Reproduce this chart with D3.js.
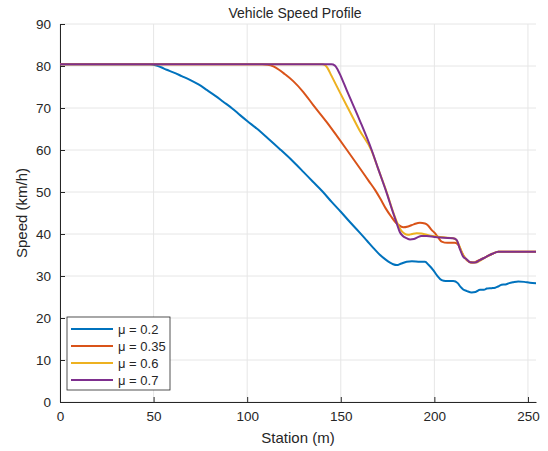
<!DOCTYPE html>
<html>
<head>
<meta charset="utf-8">
<script src="https://cdn.jsdelivr.net/npm/d3@7"></script>
<style>
  html, body { margin: 0; padding: 0; background: #fff; }
  svg { display: block; font-family: "Liberation Sans", Arial, Helvetica, sans-serif; }
</style>
</head>
<body>
<svg id="chart" width="548" height="451"></svg>
<script>
// Station (m) / speed (km/h) pairs for each friction coefficient
const stationMu02 = [0, 48, 51, 54, 57, 60.5, 65, 69.4, 74, 78.4, 83, 87.2, 92, 96.2, 100, 105.1, 111, 117.5, 124, 130, 135, 140.5, 145, 150, 155, 160, 164, 168, 171, 174, 176.3, 178, 179.9, 182, 185.2, 188, 192.3, 195, 197, 199.4, 201.5, 203.9, 206, 210.1, 212.5, 214, 215.4, 217.5, 219.9, 222, 224.4, 226.5, 228, 230.6, 232.5, 234, 235.9, 238, 240, 242, 244.8, 248, 251, 254.3];
const speedMu02   = [80.4, 80.4, 80.2, 79.7, 79.1, 78.5, 77.6, 76.7, 75.6, 74.3, 72.9, 71.5, 69.9, 68.3, 66.9, 65.1, 62.8, 60.2, 57.5, 54.8, 52.5, 50.0, 47.7, 45.3, 42.8, 40.4, 38.4, 36.4, 35.0, 33.9, 33.2, 32.8, 32.6, 32.9, 33.4, 33.5, 33.4, 33.4, 32.6, 31.4, 30.1, 29.0, 28.8, 28.8, 28.3, 27.4, 26.8, 26.4, 26.1, 26.2, 26.7, 26.7, 27.0, 27.1, 27.2, 27.5, 27.9, 28.0, 28.3, 28.5, 28.7, 28.6, 28.4, 28.3];

const stationMu035 = [0, 108, 111, 114, 117, 120, 124.6, 130, 135.3, 142.4, 148, 153.3, 160.3, 165, 168.3, 171, 174, 177, 179, 181, 183.4, 186, 189, 192.3, 195, 196.5, 198.5, 200.3, 202, 203.9, 207, 211, 212.8, 214.5, 216.3, 218.5, 220.8, 223, 225.5, 227.9, 231, 234.1, 240, 247, 254.3];
const speedMu035   = [80.4, 80.4, 80.3, 79.9, 79.1, 78.1, 76.4, 73.8, 70.7, 66.7, 63.3, 60.0, 55.6, 52.6, 50.5, 48.5, 46.1, 44.1, 42.9, 42.1, 41.6, 41.8, 42.3, 42.7, 42.5, 42.1, 41.0, 40.2, 39.2, 38.2, 37.9, 37.9, 37.4, 35.8, 34.3, 33.4, 33.2, 33.6, 34.1, 34.6, 35.3, 35.8, 35.8, 35.8, 35.8];

const stationMu06 = [0, 140, 141.6, 142.8, 145, 150, 155, 160, 166.5, 170, 174.5, 178, 180, 182, 184, 186, 188, 190.5, 193, 195.9, 198, 201.2, 205, 210, 211.5, 213, 215, 217, 219.5, 222, 225, 227.9, 231, 234.1, 240, 247, 254.3];
const speedMu06   = [80.4, 80.4, 80.2, 79.6, 77.7, 73.3, 69.0, 64.7, 59.8, 55.5, 50.0, 45.2, 42.8, 41.0, 40.1, 39.8, 40.0, 40.2, 40.1, 39.8, 39.6, 39.4, 39.2, 39.0, 38.7, 37.5, 35.3, 34.0, 33.2, 33.2, 33.8, 34.6, 35.3, 35.8, 35.8, 35.8, 35.8];

const stationMu07 = [0, 145, 146.9, 148.5, 150, 153.1, 160, 166.5, 170, 174.5, 178, 180, 181.6, 183, 185.2, 187, 189, 191, 193, 195.9, 200, 205, 210, 211.9, 213.5, 215.4, 217.2, 219, 221.7, 224, 227.9, 231, 234.1, 240, 247, 254.3];
const speedMu07   = [80.4, 80.4, 80.1, 79.0, 77.6, 74.3, 67.2, 60.0, 55.5, 49.8, 45.0, 42.4, 40.4, 39.6, 39.0, 38.7, 38.8, 39.2, 39.5, 39.5, 39.3, 39.1, 39.0, 38.6, 36.6, 34.6, 34.0, 33.3, 33.2, 33.7, 34.6, 35.3, 35.8, 35.8, 35.8, 35.8];

const seriesNames = ["μ = 0.2", "μ = 0.35", "μ = 0.6", "μ = 0.7"];
const seriesColors = ["#0072BD", "#D95319", "#EDB120", "#7E2F8E"];

const xTicks = [0, 50, 100, 150, 200, 250];
const yTicks = [0, 10, 20, 30, 40, 50, 60, 70, 80, 90];

const series = [
  { name: seriesNames[0], color: seriesColors[0], xs: stationMu02, ys: speedMu02 },
  { name: seriesNames[1], color: seriesColors[1], xs: stationMu035, ys: speedMu035 },
  { name: seriesNames[2], color: seriesColors[2], xs: stationMu06, ys: speedMu06 },
  { name: seriesNames[3], color: seriesColors[3], xs: stationMu07, ys: speedMu07 }
];

const svg = d3.select("#chart");
const margin = { left: 60, right: 12, top: 24, bottom: 49 };
const W = 548, H = 451;
const x = d3.scaleLinear().domain([0, 254.3]).range([margin.left, W - margin.right]);
const y = d3.scaleLinear().domain([0, 90]).range([H - margin.bottom, margin.top]);

const axisColor = "#262626";
const gridColor = "#e6e6e6";

// grid
const grid = svg.append("g");
grid.selectAll("line.gx").data(xTicks).join("line")
  .attr("x1", d => x(d)).attr("x2", d => x(d))
  .attr("y1", y(0)).attr("y2", y(90))
  .attr("stroke", gridColor).attr("stroke-width", 1);
grid.selectAll("line.gy").data(yTicks).join("line")
  .attr("x1", x(0)).attr("x2", x(254.3))
  .attr("y1", d => y(d)).attr("y2", d => y(d))
  .attr("stroke", gridColor).attr("stroke-width", 1);

// axes, ticks pointing into the plot
const xAxis = d3.axisBottom(x).tickValues(xTicks).tickSizeInner(-5).tickSizeOuter(0).tickPadding(9);
const yAxis = d3.axisLeft(y).tickValues(yTicks).tickSizeInner(-5).tickSizeOuter(0).tickPadding(9);

const gx = svg.append("g").attr("transform", `translate(0,${y(0)})`).call(xAxis);
const gy = svg.append("g").attr("transform", `translate(${x(0)},0)`).call(yAxis);
[gx, gy].forEach(g => {
  g.select(".domain").attr("stroke", axisColor).attr("stroke-width", 1);
  g.selectAll(".tick line").attr("stroke", axisColor);
  g.selectAll(".tick text").attr("fill", axisColor).style("font-size", "13.5px")
    .style("font-family", "'Liberation Sans', Arial, sans-serif");
});

// lines
const line = d3.line().curve(d3.curveMonotoneX);
const plot = svg.append("g");
series.forEach(s => {
  const pts = s.xs.map((v, i) => [x(v), y(s.ys[i])]);
  plot.append("path")
    .attr("d", line(pts))
    .attr("fill", "none")
    .attr("stroke", s.color)
    .attr("stroke-width", 2)
    .attr("stroke-linejoin", "round");
});

// title and axis labels
svg.append("text").attr("x", (x(0) + x(254.3)) / 2 - 3).attr("y", 18)
  .attr("text-anchor", "middle").attr("fill", axisColor)
  .style("font-size", "14px").text("Vehicle Speed Profile");
svg.append("text").attr("x", (x(0) + x(254.3)) / 2).attr("y", 443)
  .attr("text-anchor", "middle").attr("fill", axisColor)
  .style("font-size", "15px").text("Station (m)");
svg.append("text")
  .attr("transform", `translate(27,${(y(0) + y(90)) / 2}) rotate(-90)`)
  .attr("text-anchor", "middle").attr("fill", axisColor)
  .style("font-size", "15px").text("Speed (km/h)");

// legend
const lg = svg.append("g").attr("transform", "translate(67,317)");
lg.append("rect").attr("width", 103).attr("height", 73)
  .attr("fill", "#fff").attr("stroke", axisColor).attr("stroke-width", 0.8);
series.forEach((s, i) => {
  const cy = 12 + i * 17;
  lg.append("line").attr("x1", 4).attr("x2", 46).attr("y1", cy).attr("y2", cy)
    .attr("stroke", s.color).attr("stroke-width", 2);
  lg.append("text").attr("x", 51).attr("y", cy + 4.5).attr("fill", axisColor)
    .style("font-size", "13px").text(s.name);
});
</script>
</body>
</html>
